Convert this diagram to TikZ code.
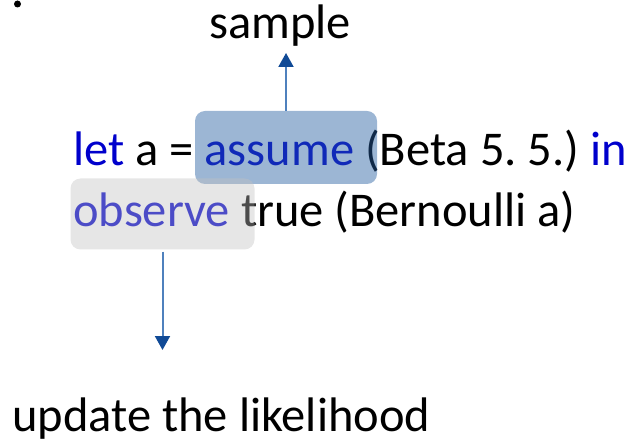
\documentclass[tikz,border=0pt]{standalone}
\usepackage{fontspec}
\setmainfont{Carlito}
\usetikzlibrary{arrows.meta}
\frenchspacing
\definecolor{kwblue}{RGB}{0,0,204}
\definecolor{assumefill}{RGB}{36,93,160}
\definecolor{observefill}{RGB}{192,192,192}
\definecolor{linkline}{RGB}{79,129,189}
\definecolor{linkhead}{RGB}{16,74,150}
\tikzset{
  txt/.style={anchor=base west, inner sep=0pt, font=\fontsize{48.5bp}{58bp}\selectfont},
  hlbox/.style={rectangle, rounded corners=10bp, inner sep=0pt},
  assumebox/.style={hlbox, fill=assumefill, fill opacity=0.45, minimum width=182bp, minimum height=73bp},
  observebox/.style={hlbox, fill=observefill, fill opacity=0.4, minimum width=184bp, minimum height=71bp},
  link/.style={draw=linkline, line width=2bp,
    -{Triangle[width=15bp,length=14bp,color=linkhead,fill=linkhead]}},
}
\begin{document}
\begin{tikzpicture}[x=1bp,y=-1bp]
  \useasboundingbox (0,0) rectangle (628,442);
  % bullet
  \fill (17.5,4) circle (3.5);
  % code
  \node[txt] (line1) at (73,166) {\textcolor{kwblue}{let} a = \textcolor{kwblue}{assume} (Beta 5. 5.) \textcolor{kwblue}{in}};
  \node[txt] (line2) at (73,227) {\textcolor{kwblue}{observe} true (Bernoulli a)};
  % highlights over the keywords
  \node[assumebox] (assume) at (286,147.5) {};
  \node[observebox] (observe) at (162.5,214) {};
  % labels
  \node[txt] (sample) at (209,39) {sample};
  \node[txt] (update) at (12,431) {update the likelihood};
  % arrows
  \coordinate (sampletip) at (286,53);
  \coordinate (updatetip) at (162.5,350);
  \draw[link] (assume.north) -- (sampletip);
  \draw[link] ([yshift=-2bp]observe.south) -- (updatetip);
\end{tikzpicture}
\end{document}
